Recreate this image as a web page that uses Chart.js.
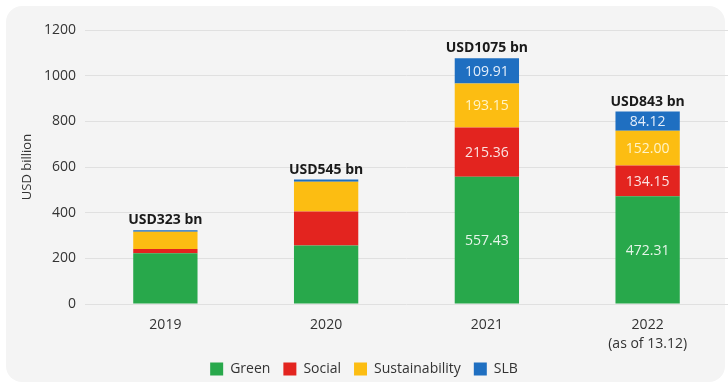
<!DOCTYPE html>
<html>
<head>
<meta charset="utf-8">
<script src="https://cdn.jsdelivr.net/npm/chart.js@4.4.0/dist/chart.umd.min.js"></script>
<style>
  html, body { margin: 0; padding: 0; background: #ffffff; }
  #wrap { position: relative; width: 728px; height: 386px; overflow: hidden; }
  #panel {
    position: absolute; left: 6px; top: 6px; width: 719px; height: 376px;
    background: #f4f4f4; border-radius: 16px;
  }
  #bonds { position: absolute; left: 0; top: 0; }
</style>
</head>
<body>
<div id="wrap">
  <div id="panel"></div>
  <canvas id="bonds" width="728" height="386"></canvas>
</div>
<script>
// Issuance by bond type, USD billion
const years = ["2019", "2020", "2021", ["2022", "(as of 13.12)"]];
const green = [222, 256, 557.43, 472.31];
const social = [19, 149, 215.36, 134.15];
const sustainability = [75, 130, 193.15, 152.00];
const slb = [7, 10, 109.91, 84.12];
const totals = [323, 545, 1075, 843];
// only these years carry segment values
const labelledYears = [false, false, true, true];
const yTicks = [0, 200, 400, 600, 800, 1000, 1200];

const FONT = "'Open Sans', 'Noto Sans', sans-serif";
const TEXT = "#333333";

const stackLabels = {
    id: "stackLabels",
    afterDatasetsDraw(chart) {
        const ctx = chart.ctx;
        const yScale = chart.scales.y;
        ctx.save();
        ctx.textAlign = "center";
        ctx.textBaseline = "middle";
        ctx.font = "14px " + FONT;
        chart.data.datasets.forEach((ds, di) => {
            const meta = chart.getDatasetMeta(di);
            meta.data.forEach((bar, i) => {
                if (!labelledYears[i]) return;
                const p = bar.getCenterPoint();
                ctx.fillStyle = ds.labelColor;
                ctx.fillText(ds.data[i].toFixed(2), p.x, p.y + 1);
            });
        });
        // totals above each stack
        ctx.font = "bold 14px " + FONT;
        ctx.fillStyle = "#1a1a1a";
        ctx.textBaseline = "bottom";
        const meta0 = chart.getDatasetMeta(0);
        totals.forEach((t, i) => {
            const sum = chart.data.datasets.reduce((s, ds) => s + ds.data[i], 0);
            const x = meta0.data[i].x;
            ctx.fillText("USD" + t + " bn", x, yScale.getPixelForValue(sum) - 3);
        });
        ctx.restore();
    }
};

new Chart(document.getElementById("bonds"), {
    type: "bar",
    data: {
        labels: years,
        datasets: [
            { label: "Green", data: green, backgroundColor: "#28a84b", labelColor: "#e6f5e9" },
            { label: "Social", data: social, backgroundColor: "#e3241f", labelColor: "#fbe3e2" },
            { label: "Sustainability", data: sustainability, backgroundColor: "#fcbd12", labelColor: "#fff4c8" },
            { label: "SLB", data: slb, backgroundColor: "#1f6fc1", labelColor: "#e4eefa" }
        ]
    },
    options: {
        responsive: false,
        animation: false,
        devicePixelRatio: 1,
        layout: { padding: { top: 30, right: 0, bottom: 0, left: 0 } },
        datasets: { bar: { barPercentage: 0.5, categoryPercentage: 0.8 } },
        plugins: {
            tooltip: { enabled: false },
            legend: {
                position: "bottom",
                labels: {
                    boxWidth: 13,
                    boxHeight: 13,
                    padding: 13,
                    color: TEXT,
                    font: { family: FONT, size: 14 }
                }
            }
        },
        scales: {
            x: {
                stacked: true,
                grid: { display: false, drawTicks: false },
                border: { display: false },
                afterFit: (scale) => {
                    scale.height = 45;
                    // let the second label line run into the legend band
                    scale._computeLabelArea = () => undefined;
                },
                ticks: {
                    color: TEXT,
                    padding: 11,
                    maxRotation: 0,
                    font: { family: FONT, size: 14, lineHeight: 1.4 }
                }
            },
            y: {
                stacked: true,
                min: 0,
                max: 1200,
                afterBuildTicks: (scale) => { scale.ticks = yTicks.map(v => ({ value: v })); },
                afterFit: (scale) => { scale.width = 85; },
                grid: { color: "#e0e0e0", drawTicks: false },
                border: { display: false },
                ticks: {
                    color: TEXT,
                    padding: 9,
                    callback: (v) => String(v),
                    font: { family: FONT, size: 14 }
                },
                title: {
                    display: true,
                    text: "USD billion",
                    color: TEXT,
                    padding: { top: 19, bottom: 0 },
                    font: { family: FONT, size: 13 }
                }
            }
        }
    },
    plugins: [stackLabels]
});
</script>
</body>
</html>
